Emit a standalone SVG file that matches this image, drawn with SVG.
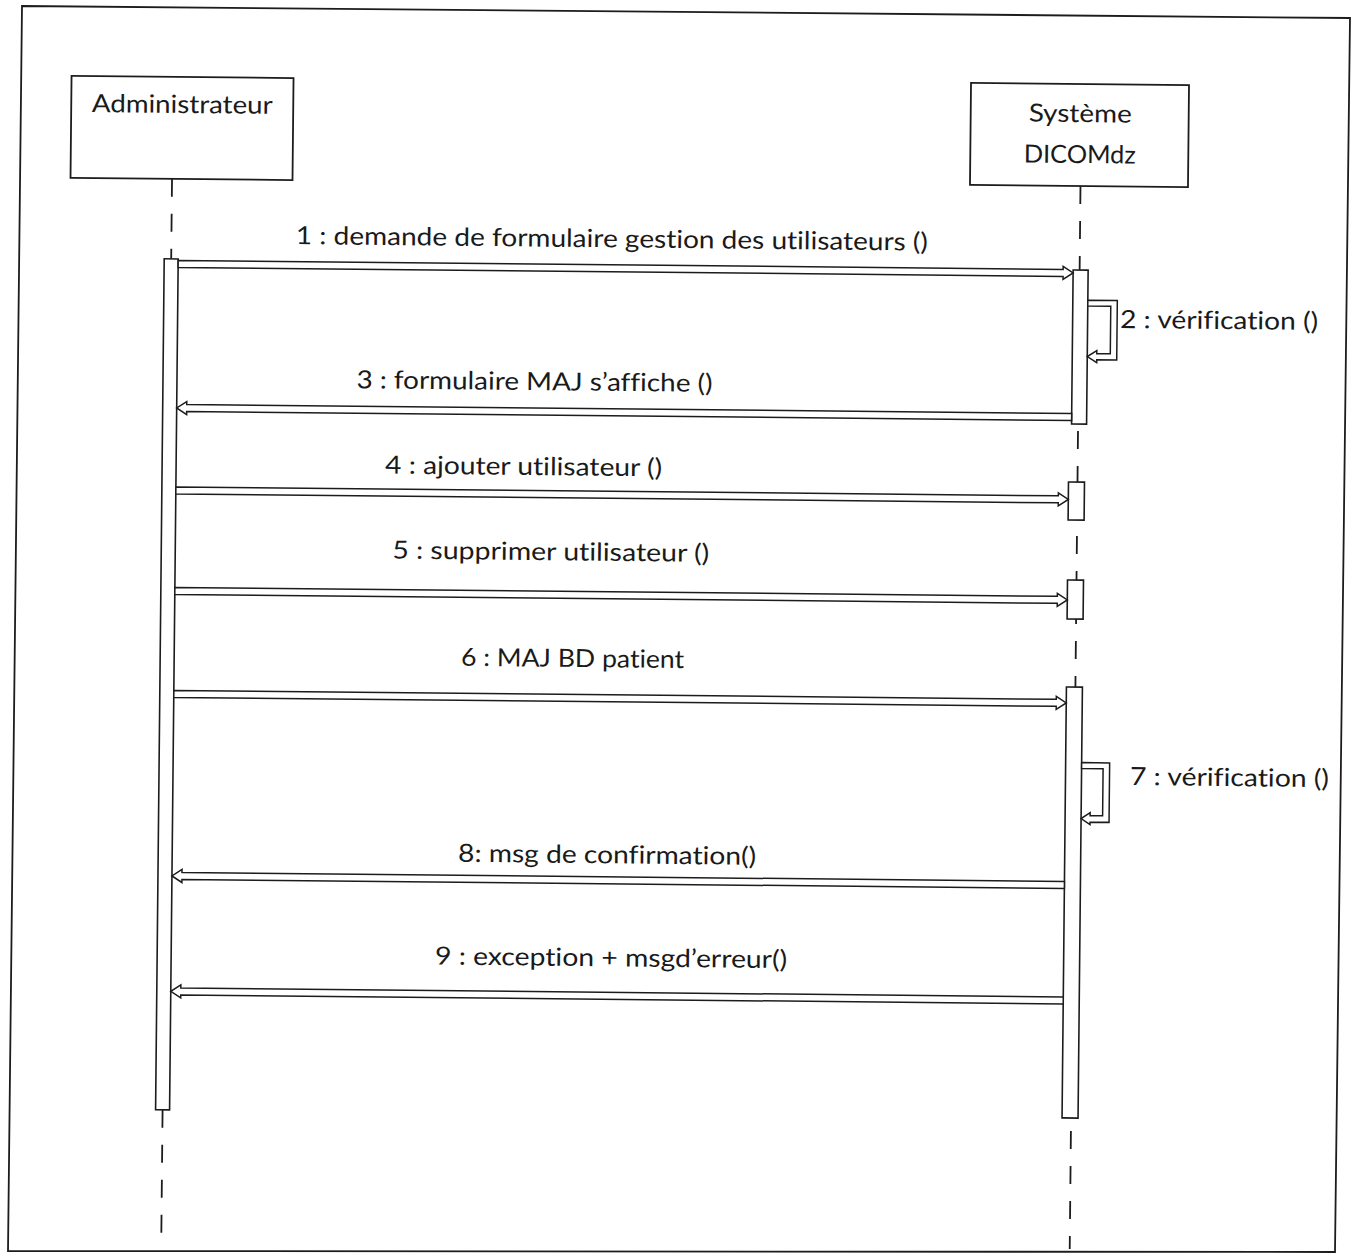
<svg xmlns="http://www.w3.org/2000/svg" width="1356" height="1255" viewBox="0 0 1356 1255">
  <style>
    .box { fill: #ffffff; stroke: #1c1c1c; stroke-width: 1.8; }
    .life { fill: none; stroke: #1c1c1c; stroke-width: 1.8; stroke-dasharray: 18 17; }
    .act { fill: #ffffff; stroke: #1c1c1c; stroke-width: 1.6; }
    .msg { fill: #ffffff; stroke: #1c1c1c; stroke-width: 1.5; stroke-linejoin: miter; }
    .lbl { font-family: Lato, "Open Sans", "Liberation Sans", sans-serif; font-size: 25px; fill: #1a1a1a; font-variant-ligatures: none; }
    .name { font-family: Lato, "Open Sans", "Liberation Sans", sans-serif; font-size: 25px; fill: #1a1a1a; text-anchor: middle; font-variant-ligatures: none; }
  </style>

  <rect x="0" y="0" width="1356" height="1255" fill="#ffffff"/>

  <!-- outer frame of the sequence diagram -->
  <polygon id="frame" points="22,6 1350,18 1335,1252 8,1251" fill="none" stroke="#1c1c1c" stroke-width="1.8"/>

  <!-- the whole sheet sits slightly tilted -->
  <g transform="rotate(0.58 678 627)">

    <g id="node-administrateur">
      <line class="life" x1="167.5" y1="184" x2="167.5" y2="264"/>
      <line class="life" x1="167.5" y1="1115" x2="167.5" y2="1245"/>
      <rect class="box" x="66" y="82" width="222" height="102"/>
      <text class="name" x="177" y="118" textLength="181" lengthAdjust="spacingAndGlyphs">Administrateur</text>
      <rect class="act" x="160.5" y="264" width="14" height="851"/>
    </g>

    <g id="node-systeme">
      <line class="life" x1="1076" y1="182" x2="1076" y2="1245"/>
      <rect class="box" x="965.5" y="80" width="218" height="102"/>
      <text class="name" x="1075" y="118" textLength="103" lengthAdjust="spacingAndGlyphs">Système</text>
      <text class="name" x="1075" y="159" textLength="112" lengthAdjust="spacingAndGlyphs">DICOMdz</text>
      <rect class="act" x="1069.5" y="266" width="15" height="154"/>
      <rect class="act" x="1067" y="478" width="16" height="38"/>
      <rect class="act" x="1067" y="576" width="16" height="39"/>
      <rect class="act" x="1067" y="683" width="16" height="431"/>
    </g>

    <g id="connectors">
      <!-- 1 : request form -->
      <polygon class="msg" points="174.5,265.5 1059.5,265.5 1059.5,262.5 1069.5,269 1059.5,275.5 1059.5,272.5 174.5,272.5"/>
      <text class="lbl" x="292" y="248" textLength="632" lengthAdjust="spacingAndGlyphs">1 : demande de formulaire gestion des utilisateurs ()</text>

      <!-- 2 : self call -->
      <polygon class="msg" points="1084.5,296 1114,296 1114,355.5 1094,355.5 1094,358.5 1084.5,352.5 1094,346.5 1094,349.5 1107.5,349.5 1107.5,302 1084.5,302"/>
      <text class="lbl" x="1117" y="323.5" textLength="198" lengthAdjust="spacingAndGlyphs">2 : vérification ()</text>

      <!-- 3 : form shown -->
      <polygon class="msg" points="1069.5,409.5 184.5,409.5 184.5,406.5 174.5,413 184.5,419.5 184.5,416.5 1069.5,416.5"/>
      <text class="lbl" x="354" y="391.5" textLength="356" lengthAdjust="spacingAndGlyphs">3 : formulaire MAJ s’affiche ()</text>

      <!-- 4 : add user -->
      <polygon class="msg" points="174.5,492 1057,492 1057,489 1067,495.5 1057,502 1057,499 174.5,499"/>
      <text class="lbl" x="383.5" y="476.5" textLength="277" lengthAdjust="spacingAndGlyphs">4 : ajouter utilisateur ()</text>

      <!-- 5 : delete user -->
      <polygon class="msg" points="174.5,592.5 1057,592.5 1057,589.5 1067,596 1057,602.5 1057,599.5 174.5,599.5"/>
      <text class="lbl" x="391.5" y="561.5" textLength="317" lengthAdjust="spacingAndGlyphs">5 : supprimer utilisateur ()</text>

      <!-- 6 : update patient DB -->
      <polygon class="msg" points="174.5,695.5 1057,695.5 1057,692.5 1067,699 1057,705.5 1057,702.5 174.5,702.5"/>
      <text class="lbl" x="461.5" y="668" textLength="223" lengthAdjust="spacingAndGlyphs">6 : MAJ BD patient</text>

      <!-- 7 : self call -->
      <polygon class="msg" points="1083,758.5 1111,758.5 1111,818 1092,818 1092,820.5 1083,814.5 1092,808.5 1092,811.5 1104.5,811.5 1104.5,764.5 1083,764.5"/>
      <text class="lbl" x="1131.5" y="780.5" textLength="199" lengthAdjust="spacingAndGlyphs">7 : vérification ()</text>

      <!-- 8 : confirmation -->
      <polygon class="msg" points="1067,877.5 184.5,877.5 184.5,874.5 174.5,881 184.5,887.5 184.5,884.5 1067,884.5"/>
      <text class="lbl" x="460.5" y="864" textLength="298" lengthAdjust="spacingAndGlyphs">8: msg de confirmation()</text>

      <!-- 9 : exception -->
      <polygon class="msg" points="1067,993 184.5,993 184.5,990 174.5,996.5 184.5,1003 184.5,1000 1067,1000"/>
      <text class="lbl" x="438.5" y="967" textLength="352" lengthAdjust="spacingAndGlyphs">9 : exception + msgd’erreur()</text>
    </g>
  </g>
</svg>
